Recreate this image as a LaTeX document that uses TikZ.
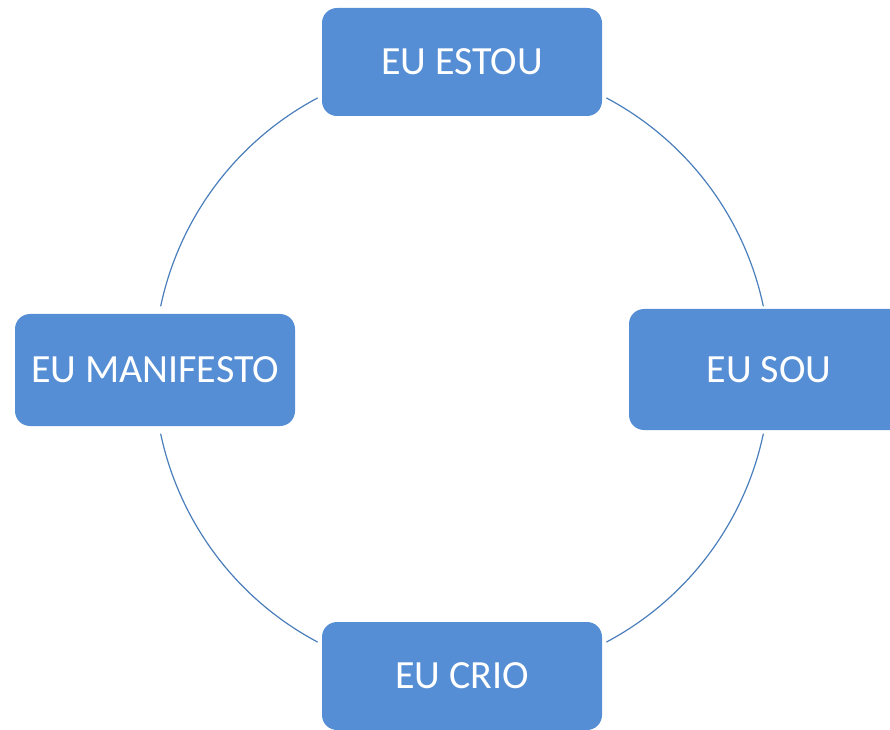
\documentclass[tikz,border=0pt]{standalone}
\usepackage{fontspec}
\setmainfont{Carlito}
\definecolor{caixa}{HTML}{558ED5}
\definecolor{linha}{HTML}{4A7EBB}
\tikzset{caixa/.style={rectangle,rounded corners=15pt,fill=caixa,text=white,
    minimum width=280pt,minimum height=108pt,inner sep=0pt,
    font=\fontsize{40}{44}\selectfont}}
\begin{document}
\begin{tikzpicture}[x=1pt,y=1pt,line join = round, line cap = round]
		%Ciclo - quatro caixas sobre o circulo
		\useasboundingbox (0,0) rectangle (890,729);
		\clip (0,0) rectangle (890,729);
		\coordinate (C) at (462,359);
		\foreach \s in {12,118,192,298}
		\draw[color=linha,line width=1.2pt](C)++(\s:308)arc[start angle=\s,delta angle=50,radius=308];
		\node[caixa] (estou) at (462,667) {EU ESTOU};
		\node[caixa,minimum height=121pt] (sou) at (769,359.5) {EU SOU};
		\node[caixa] (crio) at (462,53) {EU CRIO};
		\node[caixa,minimum height=112pt] (manifesto) at (155,359) {EU MANIFESTO};
	\end{tikzpicture}
\end{document}
